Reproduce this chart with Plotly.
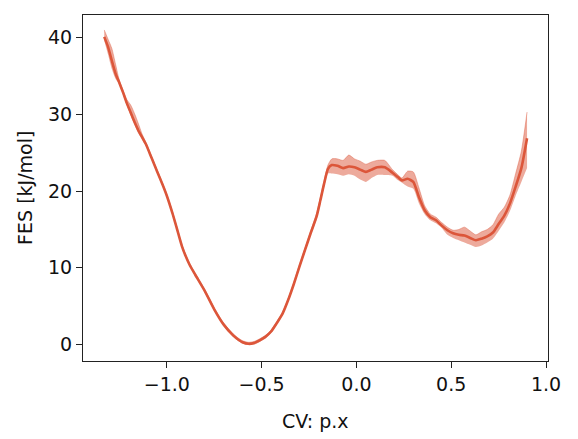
import plotly.graph_objects as go

# CV values (x), mean free energy and band limits (kJ/mol)
cv = [-1.33, -1.31, -1.29, -1.27, -1.25, -1.23, -1.21, -1.19, -1.17, -1.15, -1.13, -1.11,
      -1.08, -1.05, -1.02, -1.00, -0.97, -0.95, -0.92, -0.90, -0.88, -0.85, -0.80, -0.75, -0.70, -0.65,
      -0.62, -0.60, -0.57, -0.54, -0.51, -0.48, -0.45, -0.42, -0.39, -0.36, -0.33, -0.30,
      -0.27, -0.24, -0.21, -0.19, -0.17, -0.15, -0.13, -0.10, -0.07, -0.04, -0.01, 0.02,
      0.05, 0.08, 0.11, 0.15, 0.19, 0.22, 0.24, 0.27, 0.30, 0.33, 0.36, 0.39, 0.42, 0.45,
      0.48, 0.51, 0.54, 0.57, 0.60, 0.63, 0.66, 0.69, 0.72, 0.75, 0.78, 0.81, 0.84, 0.87, 0.90]

fes_mean = [40.1, 38.8, 37.0, 35.3, 34.1, 32.8, 31.4, 30.2, 29.0, 27.9, 27.0, 26.1,
            24.3, 22.5, 20.7, 19.4, 17.1, 15.4, 12.8, 11.5, 10.4, 9.1, 7.0, 4.6, 2.6, 1.2,
            0.6, 0.3, 0.1, 0.2, 0.55, 1.0, 1.7, 2.8, 4.0, 5.8, 7.9, 10.2,
            12.4, 14.6, 16.7, 18.8, 21.0, 22.9, 23.4, 23.3, 23.0, 23.2, 23.1, 22.8,
            22.5, 22.8, 23.1, 23.1, 22.4, 21.8, 21.4, 21.6, 21.2, 19.2, 17.5, 16.6, 16.2, 15.5,
            14.9, 14.5, 14.3, 14.2, 13.9, 13.6, 13.8, 14.1, 14.6, 15.7, 16.8, 18.4, 20.6, 23.0, 26.9]

fes_low = [39.6, 37.8, 35.9, 34.6, 33.9, 32.5, 31.1, 29.8, 28.6, 27.5, 26.7, 25.85,
           24.1, 22.3, 20.5, 19.2, 16.9, 15.2, 12.6, 11.3, 10.2, 8.9, 6.8, 4.4, 2.4, 1.0,
           0.4, 0.1, -0.05, 0.0, 0.35, 0.8, 1.5, 2.6, 3.8, 5.6, 7.7, 9.9,
           12.1, 14.3, 16.3, 18.4, 20.5, 22.3, 22.3, 22.2, 22.0, 22.2, 22.0, 21.5,
           21.2, 21.7, 22.1, 22.1, 22.0, 21.4, 21.1, 20.6, 20.3, 18.4, 17.0, 16.2, 15.8, 15.2,
           14.3, 13.9, 13.6, 13.3, 13.0, 12.7, 12.9, 13.3, 13.8, 14.8, 15.9, 17.4, 19.4, 21.2, 23.0]

fes_high = [41.0, 39.8, 38.6, 36.5, 34.4, 33.1, 31.9, 31.2, 30.1, 28.8, 27.4, 26.35,
            24.5, 22.7, 20.9, 19.6, 17.3, 15.6, 13.0, 11.7, 10.6, 9.3, 7.2, 4.8, 2.8, 1.4,
            0.8, 0.5, 0.3, 0.4, 0.75, 1.2, 1.9, 3.0, 4.2, 6.0, 8.1, 10.5,
            12.7, 14.9, 17.1, 19.2, 21.4, 23.4, 24.2, 24.2, 24.0, 24.7, 24.2, 23.9,
            23.5, 23.8, 24.0, 24.0, 22.8, 22.1, 21.7, 22.6, 22.5, 20.4, 18.1, 17.0, 16.6, 15.9,
            15.3, 14.9, 15.0, 15.3, 14.8, 14.3, 14.7, 15.0, 15.6, 17.0, 17.9, 19.5, 22.3, 25.2, 30.3]

x_ticks = [-1.0, -0.5, 0.0, 0.5, 1.0]
x_ticktext = ["\u22121.0", "\u22120.5", "0.0", "0.5", "1.0"]
y_ticks = [0, 10, 20, 30, 40]

line_color = "rgb(220,86,58)"
band_color = "rgba(220,86,58,0.5)"
font_family = "DejaVu Sans"

fig = go.Figure()
fig.add_trace(go.Scatter(x=cv, y=fes_low, mode="lines", line=dict(width=0, color=band_color, shape="spline", smoothing=0.6),
                         showlegend=False, hoverinfo="skip"))
fig.add_trace(go.Scatter(x=cv, y=fes_high, mode="lines", line=dict(width=0.8, color=band_color, shape="spline", smoothing=0.6),
                         fill="tonexty", fillcolor=band_color, showlegend=False, hoverinfo="skip"))
fig.add_trace(go.Scatter(x=cv, y=fes_mean, mode="lines", line=dict(width=2.6, color=line_color, shape="spline", smoothing=0.6),
                         showlegend=False))

axis_common = dict(showline=True, mirror=True, linecolor="#222222", linewidth=1.1,
                   ticks="outside", ticklen=6, tickwidth=1.1, tickcolor="#222222",
                   showgrid=False, zeroline=False,
                   tickfont=dict(family=font_family, size=19, color="#111111"))

# page body adds an 8px offset, so the figure is drawn 8px smaller with reduced left/top margins
fig.update_layout(
    width=570, height=431,
    margin=dict(l=75, r=30, t=7, b=78),
    plot_bgcolor="white", paper_bgcolor="white",
    xaxis=dict(range=[-1.442, 1.0105], tickvals=x_ticks, ticktext=x_ticktext, **axis_common),
    yaxis=dict(range=[-2.14, 42.95], tickvals=y_ticks, **axis_common),
    annotations=[
        dict(text="CV: p.x", xref="paper", yref="paper", x=0.5, y=-0.174,
             xanchor="center", yanchor="middle", showarrow=False,
             font=dict(family=font_family, size=19, color="#111111")),
        dict(text="FES [kJ/mol]", xref="paper", yref="paper", x=-0.125, y=0.5,
             xanchor="center", yanchor="middle", textangle=-90, showarrow=False,
             font=dict(family=font_family, size=19, color="#111111")),
    ],
)

fig.write_html("out.html")
